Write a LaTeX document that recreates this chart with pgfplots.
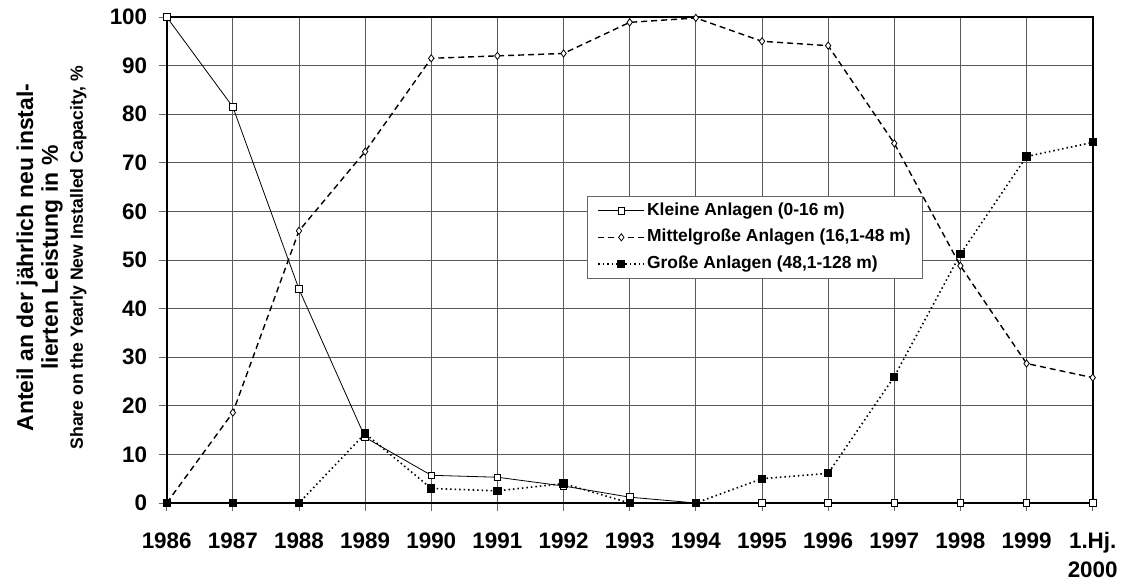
\documentclass[border=0pt]{standalone}
\usepackage{fontspec}
\setmainfont{Liberation Sans}
\usepackage{pgfplots}
\usepackage{pgfplotstable}
\pgfplotsset{compat=1.18}
\pgfplotstableread{
x K M G
0 100 0 0
1 81.5 18.6 0
2 44 56 0
3 13.5 72.3 14.3
4 5.7 91.5 3.0
5 5.3 92.0 2.5
6 3.5 92.5 4.0
7 1.2 98.9 0
8 0 99.8 0
9 0 95.0 5.0
10 0 94.1 6.1
11 0 74.0 26.0
12 0 48.8 51.2
13 0 28.7 71.3
14 0 25.8 74.2
}\datatable
\begin{document}
\begin{tikzpicture}
\begin{axis}[
  scale only axis, width=926bp, height=486bp,
  xmin=0, xmax=14, ymin=0, ymax=100,
  clip=false,
  xtick={0,...,14},
  xticklabels={1986,1987,1988,1989,1990,1991,1992,1993,1994,1995,1996,1997,1998,1999,{1.Hj.\\2000}},
  ytick={0,10,...,100},
  /pgf/number format/assume math mode=true,
  grid=major,
  major grid style={black!65, line width=0.8bp},
  axis line style={line width=2bp},
  tick align=outside, tick pos=left, major tick length=8bp,
  tick style={black!60, line width=0.8bp},
  xticklabel style={font=\bfseries\fontsize{22.5}{29}\selectfont, align=center, yshift=-18bp},
  yticklabel style={font=\bfseries\fontsize{22.5}{27}\selectfont, xshift=-8bp},
  ylabel={Anteil an der jährlich neu instal-\\lierten Leistung in \%\\\fontsize{17.7}{25}\selectfont Share on the Yearly New Installed Capacity, \%},
  ylabel style={font=\bfseries\fontsize{23}{25}\selectfont, align=center,
    at={(axis description cs:-0.1244,0.505)}, anchor=center},
  legend style={at={(axis cs:6.355,63.2)}, anchor=north west,
    draw=black!60, line width=1bp, fill=white,
    font=\bfseries\fontsize{17.5}{20}\selectfont,
    inner xsep=10bp, inner ysep=4bp, row sep=5.5bp,
    nodes={inner sep=2bp, text height=13bp, text depth=4bp},
    legend cell align=left},
  legend image code/.code={\draw[mark repeat=2,mark phase=2,#1] plot coordinates {(0bp,0bp) (23bp,0bp) (46bp,0bp)};},
]
\addplot[black, line width=0.8bp, mark=square*, mark size=3.3bp, mark options={fill=white, solid, line width=0.8bp}] table[x=x, y=K] {\datatable};
\addlegendentry{Kleine Anlagen (0-16 m)}
\addplot[black, line width=1.4bp, dash pattern=on 6bp off 4bp, mark=diamond*, mark size=3.6bp, mark options={fill=white, solid, line width=0.8bp}] table[x=x, y=M] {\datatable};
\addlegendentry{Mittelgroße Anlagen (16,1-48 m)}
\addplot[black, line width=1.6bp, dash pattern=on 1.5bp off 3bp, mark=square*, mark size=3.3bp, mark options={fill=black, solid}] table[x=x, y=G] {\datatable};
\addlegendentry{Große Anlagen (48,1-128 m)}
\end{axis}
\pgfresetboundingbox
\path ([shift={(-166.7bp,-78bp)}]current axis.south west) rectangle ([shift={(32.3bp,17bp)}]current axis.north east);
\end{tikzpicture}
\end{document}
